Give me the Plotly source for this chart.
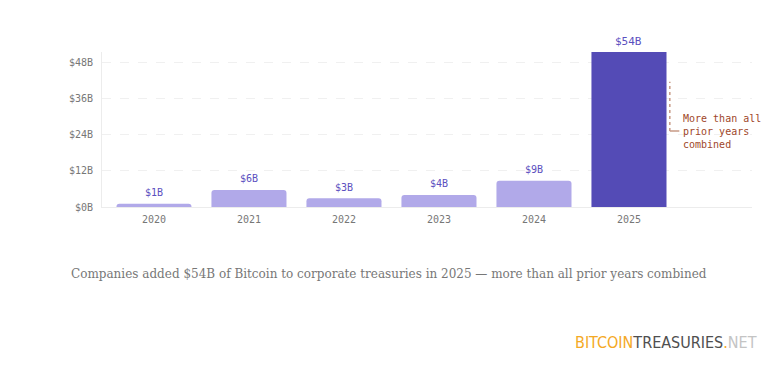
import plotly.graph_objects as go

years = ["2020", "2021", "2022", "2023", "2024", "2025"]
added_billions = [1.1, 5.7, 2.9, 4.0, 8.7, 54.0]
value_labels = ["$1B", "$6B", "$3B", "$4B", "$9B", "$54B"]
y_ticks = [0, 12, 24, 36, 48]
y_tick_labels = ["$0B", "$12B", "$24B", "$36B", "$48B"]
note_lines = ["More than all", "prior years", "combined"]
caption = "Companies added $54B of Bitcoin to corporate treasuries in 2025 \u2014 more than all prior years combined"

YMAX = 51.6
light = "#b1a9e9"
dark = "#544bb6"
colors = [dark if y == "2025" else light for y in years]
xs = list(range(len(years)))
mono = "DejaVu Sans Mono"

fig = go.Figure()
fig.add_trace(go.Bar(
    x=xs, y=added_billions, marker=dict(color=colors, cornerradius=3, line=dict(width=0)),
    width=0.79, hoverinfo="skip", showlegend=False,
))

for x, v, lab in zip(xs, added_billions, value_labels):
    fig.add_annotation(x=x, y=min(v, YMAX), text=lab, showarrow=False, yanchor="middle",
                       yshift=11, font=dict(family=mono, size=11 if v > YMAX else 10, color="#5b50c0"))

# bracket annotation next to 2025 bar
i25 = years.index("2025")
bx = i25 + 0.43
fig.add_shape(type="line", x0=bx, x1=bx, y0=25.3, y1=41.7, xref="x", yref="y",
              line=dict(color="#c79a86", width=1.5, dash="dot"))
fig.add_shape(type="line", x0=bx, x1=bx + 0.1, y0=25.3, y1=25.3, xref="x", yref="y",
              line=dict(color="#c79a86", width=1.5))
fig.add_annotation(x=bx + 0.12, y=25.3, text="<br>".join(note_lines), showarrow=False,
                   xanchor="left", yanchor="middle", align="left",
                   font=dict(family=mono, size=10, color="#a0472a"))

fig.add_annotation(xref="paper", yref="paper", x=0.4423, y=-0.432, xanchor="center", yanchor="middle",
                   text=caption, showarrow=False,
                   font=dict(family="DejaVu Serif", size=12, color="#777777"))

fig.add_annotation(xref="paper", yref="paper", x=1.0108, y=-0.877, xanchor="right", yanchor="middle",
                   showarrow=False,
                   text=("<span style='color:#f4a925'>BITCOIN</span>"
                         "<span style='color:#4f4f4f'>TREASURIES</span>"
                         "<span style='color:#f4a925'>.</span>"
                         "<span style='color:#c4c4c4'>NET</span>"),
                   font=dict(family="DejaVu Sans Condensed", size=16))

fig.update_layout(
    width=772, height=364,
    margin=dict(l=94, r=28, t=44, b=165),
    paper_bgcolor="white", plot_bgcolor="white",
    xaxis=dict(range=[-0.547, 6.295], tickmode="array", tickvals=xs, ticktext=years,
               showgrid=False, zeroline=False, showline=True, linecolor="#ececec", linewidth=1,
               ticks="", ticklabelstandoff=3, tickfont=dict(family=mono, size=10, color="#777777")),
    yaxis=dict(range=[0, YMAX], tickmode="array", tickvals=y_ticks, ticktext=y_tick_labels,
               showgrid=True, gridcolor="#f0f0f0", griddash="dash", gridwidth=1,
               zeroline=False, showline=True, linecolor="#ececec", linewidth=1,
               ticks="", ticklabelstandoff=6, tickfont=dict(family=mono, size=10, color="#777777")),
)

fig.write_html("out.html")
